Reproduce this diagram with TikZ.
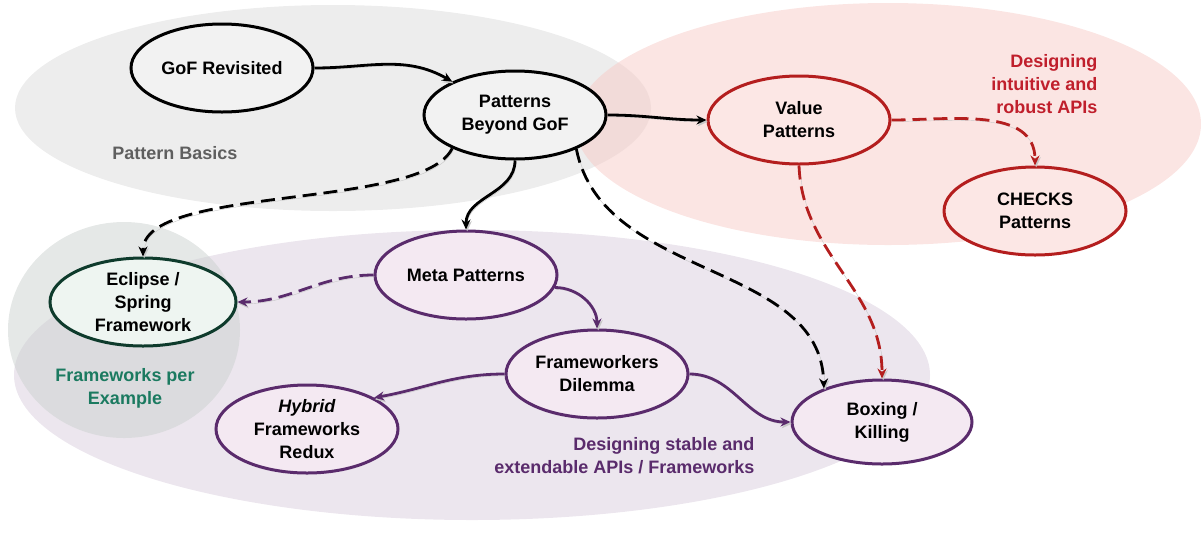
\documentclass[tikz,border=0pt]{standalone}
\usepackage{fontspec}
\setmainfont{Liberation Sans}
\usepackage{tikz}
\usepackage{xcolor}
\usetikzlibrary{shapes,arrows.meta,positioning,calc}

\definecolor{basicarea}{HTML}{EDEDED}
\definecolor{apiarea}{HTML}{F7CBC7}
\definecolor{fwarea}{HTML}{ECE6EE}
\definecolor{exarea}{HTML}{CBD1CF}
\definecolor{basicnode}{HTML}{F2F2F2}
\definecolor{apinode}{HTML}{FCE7E5}
\definecolor{fwnode}{HTML}{F4E9F2}
\definecolor{exnode}{HTML}{EEF5F1}
\definecolor{apired}{HTML}{B41E1E}
\definecolor{apitext}{HTML}{C01F2C}
\definecolor{fwpurple}{HTML}{5A2B6C}
\definecolor{exgreen}{HTML}{0E3B2C}
\definecolor{exteal}{HTML}{1B7A60}
\definecolor{basictext}{HTML}{5F5F5F}

\begin{document}
\begin{tikzpicture}[x=1pt, y=-1pt, font=\fontsize{18}{23}\selectfont\bfseries,
        topic/.style={ellipse, line width=3pt, minimum width=182pt, minimum height=88pt, inner sep=0pt, align=center},
        basic/.style={topic, draw=black, fill=basicnode},
        api/.style={topic, draw=apired, fill=apinode},
        fw/.style={topic, draw=fwpurple, fill=fwnode},
        ex/.style={topic, draw=exgreen, fill=exnode},
        link/.style={line width=2.8pt, -{Stealth[length=10pt,width=9pt]},
            preaction={draw=black!22, solid, transform canvas={shift={(1.2pt,-1.8pt)}}}},
        optlink/.style={link, dash pattern=on 14pt off 7pt}]
        \useasboundingbox (0,0) rectangle (1201,542);
        % topic areas
        \fill[basicarea] (333,108) ellipse [x radius=318pt, y radius=103pt];
        \fill[apiarea, fill opacity=0.5] (888,124) ellipse [x radius=313pt, y radius=121pt];
        \fill[fwarea] (472,375) ellipse [x radius=458pt, y radius=145pt];
        \fill[exarea, fill opacity=0.5] (124,330) ellipse [x radius=116pt, y radius=108pt];
        \node (basics) at (175,153) [text=basictext] {Pattern Basics};
        \node (apis) at (1101,84) [anchor=east, align=right, text=apitext] {Designing\\intuitive and\\robust APIs};
        \node (examples) at (125,388) [align=center, text=exteal] {Frameworks per\\Example};
        \node (frameworks) at (758,456) [anchor=east, align=right, text=fwpurple] {Designing stable and\\extendable APIs / Frameworks};
        % topics
        \node (gof) at (222,68) [basic] {GoF Revisited};
        \node (beyond) at (515,115) [basic] {Patterns\\Beyond GoF};
        \node (value) at (799,120) [api] {Value\\Patterns};
        \node (checks) at (1035,211) [api] {CHECKS\\Patterns};
        \node (eclipse) at (143,302) [ex, minimum width=186pt] {Eclipse /\\Spring\\Framework};
        \node (meta) at (466,275) [fw] {Meta Patterns};
        \node (dilemma) at (597,374) [fw] {Frameworkers\\Dilemma};
        \node (hybrid) at (307,429) [fw] {\textit{Hybrid}\\Frameworks\\Redux};
        \node (boxing) at (882,422) [fw, minimum width=180pt, minimum height=84pt] {Boxing /\\Killing};
        % black links
        \draw[link] (gof.east) to[out=0, in=150] (beyond.152);
        \draw[link] (beyond.east) to[out=0, in=180] (value.west);
        \draw[link] (beyond.south) to[out=-90, in=90] (meta.north);
        \draw[optlink] (beyond.208) .. controls +(-30,62) and +(0,-72) .. (eclipse.north);
        \draw[optlink] (beyond.-29) .. controls +(26,132) and +(-3,-128) .. (boxing.150);
        % red links
        \draw[optlink, apired] (value.east) to[out=0, in=90] (checks.north);
        \draw[optlink, apired] (value.south) to[out=-88, in=90] (boxing.north);
        % purple links
        \draw[optlink, fwpurple] (meta.west) to[out=180, in=0] (eclipse.east);
        \draw[link, fwpurple] (meta.-8) to[out=0, in=90] (dilemma.north);
        \draw[link, fwpurple] (dilemma.west) to[out=180, in=10] (hybrid.25);
        \draw[link, fwpurple] (dilemma.east) to[out=0, in=180] (boxing.west);
    \end{tikzpicture}
\end{document}
